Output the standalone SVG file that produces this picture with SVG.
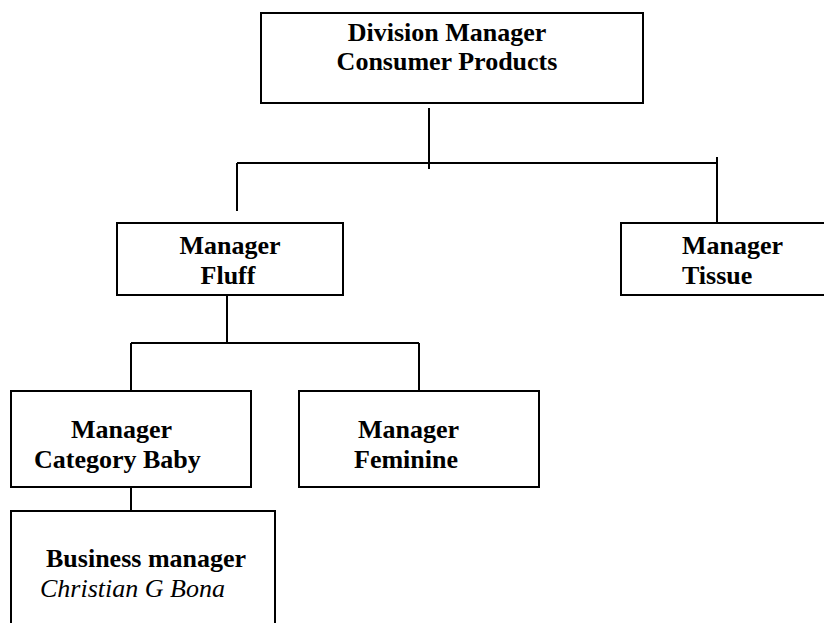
<svg xmlns="http://www.w3.org/2000/svg" width="824" height="623" viewBox="0 0 824 623">
  <style>
    .box { fill: #ffffff; stroke: #000000; stroke-width: 2; }
    .wire { fill: none; stroke: #000000; stroke-width: 2; }
    text { font-family: 'Liberation Serif', 'Times New Roman', serif; font-size: 26px; fill: #000000; }
    .b { font-weight: bold; }
    .c { text-anchor: middle; }
    .it { font-style: italic; }
  </style>
  <rect width="824" height="623" fill="#ffffff"/>

  <!-- connectors -->
  <g id="connectors">
    <path class="wire" d="M429,108 V169"/>
    <path class="wire" d="M237,163 H717"/>
    <path class="wire" d="M237,163 V211"/>
    <path class="wire" d="M717,157 V229"/>
    <path class="wire" d="M227,295 V343"/>
    <path class="wire" d="M131,343 H419"/>
    <path class="wire" d="M131,343 V391"/>
    <path class="wire" d="M419,343 V391"/>
    <path class="wire" d="M131,487 V511"/>
  </g>

  <g id="division-manager">
    <rect class="box" x="261" y="13" width="382" height="90"/>
    <text class="b c" x="447" y="41">Division Manager</text>
    <text class="b c" x="447" y="70">Consumer Products</text>
  </g>

  <g id="manager-fluff">
    <rect class="box" x="117" y="223" width="226" height="72"/>
    <text class="b c" x="230" y="254">Manager</text>
    <text class="b c" x="228" y="284">Fluff</text>
  </g>

  <g id="manager-tissue">
    <rect class="box" x="621" y="223" width="206" height="72"/>
    <text class="b" x="682" y="254">Manager</text>
    <text class="b" x="682" y="284">Tissue</text>
  </g>

  <g id="manager-category-baby">
    <rect class="box" x="11" y="391" width="240" height="96"/>
    <text class="b" x="71" y="438">Manager</text>
    <text class="b" x="34" y="468">Category Baby</text>
  </g>

  <g id="manager-feminine">
    <rect class="box" x="299" y="391" width="240" height="96"/>
    <text class="b" x="358" y="438">Manager</text>
    <text class="b" x="354" y="468">Feminine</text>
  </g>

  <g id="business-manager">
    <rect class="box" x="11" y="511" width="264" height="130"/>
    <text class="b" x="46" y="567">Business manager</text>
    <text class="it" x="40" y="597">Christian G Bona</text>
  </g>
</svg>
